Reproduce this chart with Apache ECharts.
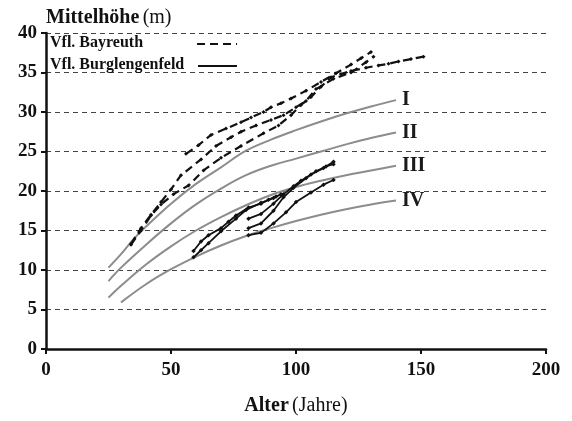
<!DOCTYPE html>
<html>
<head>
<meta charset="utf-8">
<script src="https://cdn.jsdelivr.net/npm/echarts@6/dist/echarts.min.js"></script>
<style>
  html, body { margin: 0; padding: 0; background: #fff; }
  #chart { width: 572px; height: 421px; }
</style>
</head>
<body>
<div id="chart"></div>
<script>
// Yield-class reference curves (age in years, mean height in m)
const classNames = ['I', 'II', 'III', 'IV'];
const classI   = [[25,10.3],[30,12.0],[35,13.9],[40,15.5],[50,18.4],[60,20.9],[70,23.0],[80,25.1],[90,26.5],[100,27.7],[110,28.8],[120,29.8],[130,30.7],[140,31.5]];
const classII  = [[25,8.6],[30,10.3],[40,13.2],[50,15.9],[60,18.3],[70,20.3],[80,22.0],[90,23.2],[100,24.1],[110,25.0],[120,25.9],[130,26.7],[140,27.4]];
const classIII = [[25,6.5],[30,8.0],[40,10.7],[50,13.0],[60,15.0],[70,16.7],[80,18.2],[90,19.5],[100,20.5],[110,21.3],[120,22.0],[130,22.6],[140,23.2]];
const classIV  = [[30,5.9],[40,8.2],[50,10.1],[60,11.7],[70,13.1],[80,14.3],[90,15.3],[100,16.2],[110,17.0],[120,17.7],[130,18.3],[140,18.8]];

// Vfl. Bayreuth plots (dashed)
const bayreuthA = [[56,24.7],[61,25.8],[66,27.1],[72,27.9],[78,28.7],[82,29.3],[87,30.0],[90,30.6],[94,31.1],[98,31.7],[104,32.7],[110,33.8],[116,34.9],[122,36.0],[126,36.8],[130,37.6]];
const bayreuthB = [[34,13.3],[38,15.3],[42,17.0],[46,18.6],[50,20.2],[54,22.0],[62,24.0],[68,25.7],[74,26.8],[78,27.5],[84,28.3],[90,29.0],[95,29.6],[100,30.6],[104,31.4],[108,32.9],[115,34.2],[122,35.0],[128,36.3],[131,37.0]];
const bayreuthC = [[34,13.2],[38,15.0],[42,16.9],[46,18.3],[51,19.6],[57,20.7],[63,22.6],[70,24.2],[78,25.7],[87,27.3],[93,28.3],[98,29.6],[102,30.9],[106,31.9],[110,33.2],[114,34.4],[118,34.8],[122,35.2],[128,35.6],[133,35.9],[137,36.1],[141,36.4],[146,36.7],[151,37.0]];

// Vfl. Burglengenfeld plots (solid)
const burgS1 = [[59,12.4],[62,13.6],[65,14.4],[70,15.3],[73,16.1],[76,16.9],[81,17.9],[86,18.4],[89,18.9],[92,19.3]];
const burgS2 = [[59,11.6],[62,12.5],[65,13.4],[70,14.9],[76,16.5],[80,17.6],[86,18.5],[91,19.1],[94,19.6]];
const burgS3 = [[81,16.5],[86,17.1],[91,18.4],[95,19.6],[99,20.6],[102,21.3],[106,22.1],[111,22.9],[115,23.7]];
const burgS4 = [[81,15.3],[86,15.9],[91,17.5],[95,19.2],[99,20.4],[104,21.6],[108,22.5],[112,23.1],[115,23.4]];
const burgS5 = [[81,14.4],[86,14.7],[91,15.9],[96,17.3],[100,18.6],[106,19.8],[111,20.8],[115,21.4]];

const xTicks = [0, 50, 100, 150, 200];
const yTicks = [0, 5, 10, 15, 20, 25, 30, 35, 40];

const SERIF = 'Liberation Serif, Times New Roman, serif';

function classSeries(data, label) {
  return {
    type: 'line', data: data, smooth: 0.4, symbol: 'none', z: 2,
    lineStyle: { color: '#8c8c8c', width: 2 },
    endLabel: {
      show: true, formatter: label, distance: 6,
      fontFamily: SERIF, fontWeight: 'bold', fontSize: 20, color: '#1a1a1a'
    }
  };
}
function bayreuth(data) {
  return {
    type: 'line', data: data, z: 4,
    symbol: 'diamond', symbolSize: 4,
    itemStyle: { color: '#111' },
    lineStyle: { color: '#111', width: 2.2, type: [8, 5] }
  };
}
function burg(data) {
  return {
    type: 'line', data: data, z: 5,
    symbol: 'diamond', symbolSize: 4.5,
    itemStyle: { color: '#111' },
    lineStyle: { color: '#111', width: 1.8 }
  };
}

const chart = echarts.init(document.getElementById('chart'));
chart.setOption({
  animation: false,
  backgroundColor: '#fff',
  grid: { left: 46, right: 26, top: 33, bottom: 64 },
  xAxis: {
    type: 'value', min: xTicks[0], max: xTicks[xTicks.length - 1], interval: 50,
    name: '{b|Alter} {r|(Jahre)}', nameLocation: 'middle', nameGap: 47,
    nameTextStyle: {
      rich: {
        b: { fontFamily: SERIF, fontWeight: 'bold', fontSize: 20, color: '#111' },
        r: { fontFamily: SERIF, fontSize: 20, color: '#111' }
      }
    },
    axisLine: { show: true, lineStyle: { color: '#111', width: 2.5 } },
    axisTick: { show: true, length: 5, lineStyle: { color: '#111', width: 2 } },
    axisLabel: { margin: 12, fontFamily: SERIF, fontWeight: 'bold', fontSize: 19, color: '#111' },
    splitLine: { show: false }
  },
  yAxis: {
    type: 'value', min: yTicks[0], max: yTicks[yTicks.length - 1], interval: 5,
    name: '{b|Mittelhöhe} {r|(m)}', nameLocation: 'end', nameGap: 5,
    nameTextStyle: {
      align: 'left',
      rich: {
        b: { fontFamily: SERIF, fontWeight: 'bold', fontSize: 20, color: '#111' },
        r: { fontFamily: SERIF, fontSize: 20, color: '#111' }
      }
    },
    axisLine: { show: true, lineStyle: { color: '#111', width: 2.5 } },
    axisTick: { show: true, length: 5, lineStyle: { color: '#111', width: 2 } },
    axisLabel: { margin: 9, fontFamily: SERIF, fontWeight: 'bold', fontSize: 19, color: '#111' },
    splitLine: { show: true, lineStyle: { color: '#444', width: 1.2, type: [5, 4] } }
  },
  graphic: [
    { type: 'text', left: 50, top: 35, z: 10,
      style: { text: 'Vfl. Bayreuth', font: 'bold 16px ' + SERIF, fill: '#111' } },
    { type: 'line', z: 10, shape: { x1: 197, y1: 44, x2: 237, y2: 44 },
      style: { stroke: '#111', lineWidth: 2.2, lineDash: [8, 5] } },
    { type: 'text', left: 50, top: 57, z: 10,
      style: { text: 'Vfl. Burglengenfeld', font: 'bold 16px ' + SERIF, fill: '#111' } },
    { type: 'line', z: 10, shape: { x1: 198, y1: 66, x2: 237, y2: 66 },
      style: { stroke: '#111', lineWidth: 2 } }
  ],
  series: [
    classSeries(classI, classNames[0]),
    classSeries(classII, classNames[1]),
    classSeries(classIII, classNames[2]),
    classSeries(classIV, classNames[3]),
    bayreuth(bayreuthA), bayreuth(bayreuthB), bayreuth(bayreuthC),
    burg(burgS1), burg(burgS2), burg(burgS3), burg(burgS4), burg(burgS5)
  ]
});
</script>
</body>
</html>
